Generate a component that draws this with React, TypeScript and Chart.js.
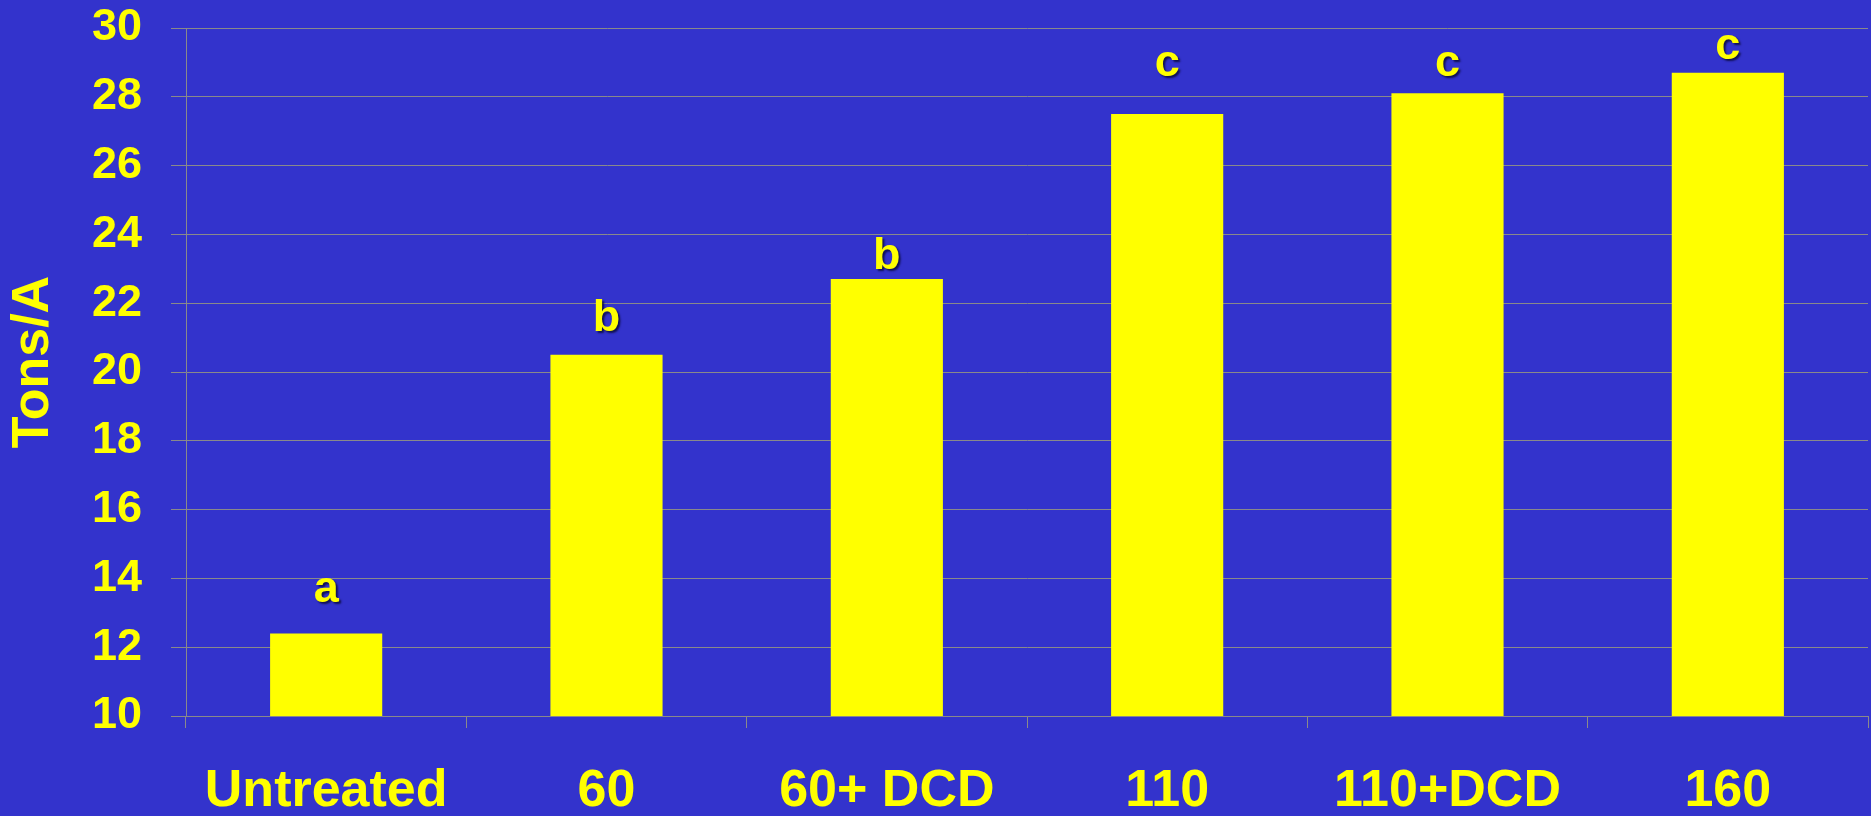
import React, { useEffect, useRef } from "react";
import { Chart, registerables } from "chart.js";

Chart.register(...registerables);

// Treatments along the x axis
const categories: string[] = ["Untreated", "60", "60+ DCD", "110", "110+DCD", "160"];
// Yield per treatment (Tons/A)
const yields: number[] = [12.4, 20.5, 22.7, 27.5, 28.1, 28.7];
// Mean-separation letters and the value line each letter sits on
const letters: string[] = ["a", "b", "b", "c", "c", "c"];
const letterLevels: number[] = [13.3, 21.2, 23.0, 28.6, 28.6, 29.1];
// Y axis range and step
const yMin = 10;
const yMax = 30;
const yStep = 2;
const yTitle = "Tons/A";

const BG = "#3333CC";
const YELLOW = "#FFFF00";
const GRID = "#8a8a8a";
const FONT = "'Liberation Sans', Arial, Helvetica, sans-serif";

const decorPlugin = {
  id: "decor",
  beforeDraw(chart: any) {
    const { ctx, width, height } = chart;
    ctx.save();
    ctx.fillStyle = BG;
    ctx.fillRect(0, 0, width, height);
    ctx.restore();
  },
  afterDatasetsDraw(chart: any) {
    const { ctx, scales } = chart;
    const xs = scales.x;
    const ys = scales.y;
    ctx.save();
    ctx.font = `bold 45px ${FONT}`;
    ctx.textAlign = "center";
    ctx.textBaseline = "alphabetic";
    ctx.fillStyle = YELLOW;
    ctx.shadowColor = "rgba(10, 10, 60, 0.85)";
    ctx.shadowOffsetX = 2;
    ctx.shadowOffsetY = 2;
    ctx.shadowBlur = 2;
    letters.forEach((t, i) => {
      ctx.fillText(t, xs.getPixelForValue(i), ys.getPixelForValue(letterLevels[i]));
    });
    ctx.restore();

    // rotated y axis title
    ctx.save();
    ctx.font = `bold 52px ${FONT}`;
    ctx.fillStyle = YELLOW;
    ctx.textAlign = "center";
    ctx.textBaseline = "middle";
    ctx.translate(34, (ys.top + ys.bottom) / 2 - 10);
    ctx.rotate(-Math.PI / 2);
    ctx.fillText(yTitle, 0, 0);
    ctx.restore();
  },
};

export default function App() {
  const canvasRef = useRef<HTMLCanvasElement | null>(null);

  useEffect(() => {
    const canvas = canvasRef.current;
    if (!canvas) return;
    const chart = new Chart(canvas, {
      type: "bar",
      data: {
        labels: categories,
        datasets: [
          {
            data: yields,
            backgroundColor: YELLOW,
            borderWidth: 0,
            barPercentage: 0.5,
            categoryPercentage: 0.8,
          },
        ],
      },
      options: {
        responsive: false,
        animation: false,
        devicePixelRatio: 1,
        layout: { padding: { left: 0, right: 3, top: 28, bottom: 0 } },
        plugins: {
          legend: { display: false },
          tooltip: { enabled: false },
        },
        scales: {
          x: {
            grid: {
              offset: true,
              drawOnChartArea: false,
              drawTicks: true,
              tickLength: 12,
              color: GRID,
              lineWidth: 1,
            },
            border: { display: true, color: GRID, width: 1 },
            ticks: {
              color: YELLOW,
              font: { family: FONT, size: 52, weight: "bold", lineHeight: 1.2 },
              padding: 32,
              maxRotation: 0,
              autoSkip: false,
            },
            afterFit(scale: any) {
              scale.height = 100;
              scale.paddingLeft = 0;
              scale.paddingRight = 0;
            },
          },
          y: {
            min: yMin,
            max: yMax,
            grid: {
              color: GRID,
              lineWidth: 1,
              drawTicks: true,
              tickLength: 15,
            },
            border: { display: true, color: GRID, width: 1 },
            ticks: {
              stepSize: yStep,
              color: YELLOW,
              font: { family: FONT, size: 45, weight: "bold", lineHeight: 1.2 },
              padding: 29,
            },
            afterFit(scale: any) {
              scale.width = 186;
              scale.paddingTop = 0;
              scale.paddingBottom = 0;
            },
          },
        },
      },
      plugins: [decorPlugin],
    });
    return () => chart.destroy();
  }, []);

  return (
    <div
      style={{
        position: "fixed",
        left: 0,
        top: 0,
        width: 1871,
        height: 816,
        background: BG,
      }}
    >
      <canvas ref={canvasRef} width={1871} height={816} style={{ display: "block" }} />
    </div>
  );
}
